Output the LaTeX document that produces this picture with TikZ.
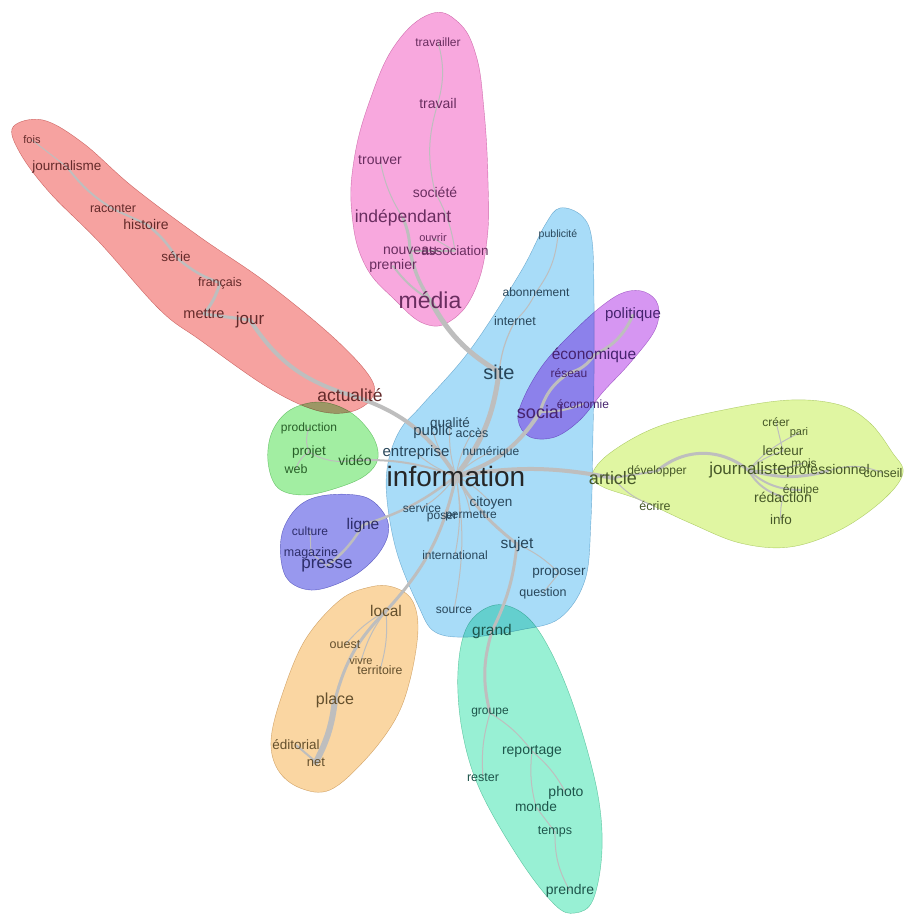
\documentclass[tikz,border=0pt]{standalone}
\usepackage{fontspec}
\setmainfont{Liberation Sans}

\definecolor{cPink}{RGB}{248,168,222}
\definecolor{cRed}{RGB}{246,162,160}
\definecolor{cBlue}{RGB}{168,220,248}
\definecolor{cPurple}{RGB}{214,150,242}
\definecolor{cYellow}{RGB}{224,246,162}
\definecolor{cGreen}{RGB}{162,238,162}
\definecolor{cViolet}{RGB}{152,152,238}
\definecolor{cOrange}{RGB}{250,214,162}
\definecolor{cTeal}{RGB}{152,240,212}
\definecolor{linkgray}{RGB}{190,190,190}
\definecolor{tPink}{RGB}{105,45,95}
\definecolor{tRed}{RGB}{100,42,42}
\definecolor{tBlue}{RGB}{40,70,90}
\definecolor{tPurple}{RGB}{70,35,110}
\definecolor{tYellow}{RGB}{70,88,40}
\definecolor{tGreen}{RGB}{40,95,40}
\definecolor{tViolet}{RGB}{45,45,105}
\definecolor{tOrange}{RGB}{100,80,45}
\definecolor{tTeal}{RGB}{30,85,75}

\pgfdeclarelayer{blobs}
\pgfdeclarelayer{links}
\pgfsetlayers{blobs,links,main}

\tikzset{
  wd/.style={inner sep=0pt, font=\fontsize{#1}{#1}\selectfont},
  lnk/.style={draw=linkgray, line width=#1, line cap=round},
  blob/.style={fill=#1, draw=#1!85!black, line width=0.4pt, blend mode=multiply},
}

\begin{document}
\begin{tikzpicture}[%
      x=1pt, y=-1pt,
      ]
      \useasboundingbox (0,0) rectangle (904,914);

      % media cluster
      \begin{scope}[text=tPink]
      \node[wd=12] (travailler) at (438,42) {travailler};
      \node[wd=14] (travail) at (438,103) {travail};
      \node[wd=14] (trouver) at (380,160) {trouver};
      \node[wd=14] (societe) at (435,192) {société};
      \node[wd=17.5] (independant) at (403,218) {indépendant};
      \node[wd=11] (ouvrir) at (433,238) {ouvrir};
      \node[wd=13.4] (association) at (455,251) {association};
      \node[wd=14] (nouveau) at (410,251) {nouveau};
      \node[wd=14] (premier) at (393,266) {premier};
      \node[wd=23] (media) at (430,300) {média};
      \end{scope}

      % jour cluster
      \begin{scope}[text=tRed]
      \node[wd=11] (fois) at (32,140) {fois};
      \node[wd=13.5] (journalisme) at (67,167) {journalisme};
      \node[wd=12.5] (raconter) at (113,209) {raconter};
      \node[wd=14] (histoire) at (146,224) {histoire};
      \node[wd=13.5] (serie) at (176,257) {série};
      \node[wd=12.5] (francais) at (220,283) {français};
      \node[wd=14.5] (mettre) at (204,314) {mettre};
      \node[wd=17] (jour) at (250,320) {jour};
      \node[wd=17.5] (actualite) at (350,395) {actualité};
      \end{scope}

      % information cluster
      \begin{scope}[text=tBlue]
      \node[wd=10.5] (publicite) at (558,235) {publicité};
      \node[wd=12] (abonnement) at (536,292) {abonnement};
      \node[wd=12.5] (internet) at (515,321) {internet};
      \node[wd=20] (site) at (499,372) {site};
      \node[wd=13.5] (qualite) at (450,424) {qualité};
      \node[wd=15] (public) at (433,432) {public};
      \node[wd=12.5] (acces) at (472,433) {accès};
      \node[wd=15] (entreprise) at (416,453) {entreprise};
      \node[wd=12] (numerique) at (491,452) {numérique};
      \node[wd=28,text=black!85] (information) at (456,476) {information};
      \node[wd=13.5] (citoyen) at (491,503) {citoyen};
      \node[wd=12] (service) at (422,508) {service};
      \node[wd=12] (poser) at (442,518) {poser};
      \node[wd=12] (permettre) at (471,516) {permettre};
      \node[wd=15.5] (sujet) at (517,544) {sujet};
      \node[wd=12] (international) at (455,555) {international};
      \node[wd=13.5] (proposer) at (559,573) {proposer};
      \node[wd=12.5] (question) at (543,593) {question};
      \node[wd=12] (source) at (454,610) {source};
      \end{scope}

      % social cluster
      \begin{scope}[text=tPurple]
      \node[wd=15] (politique) at (633,315) {politique};
      \node[wd=15.5] (economique) at (594,355) {économique};
      \node[wd=12] (reseau) at (569,373) {réseau};
      \node[wd=12] (economie) at (583,404) {économie};
      \node[wd=18] (social) at (540,412) {social};
      \end{scope}

      % article cluster
      \begin{scope}[text=tYellow]
      \node[wd=18] (article) at (613,478) {article};
      \node[wd=12] (developper) at (657,471) {développer};
      \node[wd=12.5] (ecrire) at (655,506) {écrire};
      \node[wd=17] (journaliste) at (748,470) {journaliste};
      \node[wd=12] (creer) at (776,422) {créer};
      \node[wd=11] (pari) at (799,433) {pari};
      \node[wd=13.5] (lecteur) at (783,451) {lecteur};
      \node[wd=12] (mois) at (804,463) {mois};
      \node[wd=14] (professionnel) at (828,471) {professionnel};
      \node[wd=12.5] (conseil) at (883,473) {conseil};
      \node[wd=12] (equipe) at (801,490) {équipe};
      \node[wd=14] (redaction) at (783,497) {rédaction};
      \node[wd=13.5] (info) at (781,520) {info};
      \end{scope}

      % video cluster
      \begin{scope}[text=tGreen]
      \node[wd=12] (production) at (309,428) {production};
      \node[wd=13.5] (projet) at (309,452) {projet};
      \node[wd=12.5] (web) at (296,469) {web};
      \node[wd=14] (video) at (355,460) {vidéo};
      \end{scope}

      % presse cluster
      \begin{scope}[text=tViolet]
      \node[wd=12] (culture) at (310,531) {culture};
      \node[wd=15.5] (ligne) at (363,525) {ligne};
      \node[wd=12.5] (magazine) at (311,553) {magazine};
      \node[wd=17] (presse) at (327,566) {presse};
      \end{scope}

      % local cluster
      \begin{scope}[text=tOrange]
      \node[wd=15.5] (local) at (386,611) {local};
      \node[wd=12.5] (ouest) at (345,645) {ouest};
      \node[wd=11] (vivre) at (361,661) {vivre};
      \node[wd=12.3] (territoire) at (380,670) {territoire};
      \node[wd=16] (place) at (335,700) {place};
      \node[wd=13.5] (editorial) at (296,745) {éditorial};
      \node[wd=13] (net) at (316,762) {net};
      \end{scope}

      % grand cluster
      \begin{scope}[text=tTeal]
      \node[wd=15.5] (grand) at (492,631) {grand};
      \node[wd=12] (groupe) at (490,713) {groupe};
      \node[wd=14] (reportage) at (532,751) {reportage};
      \node[wd=12.5] (rester) at (483,778) {rester};
      \node[wd=14] (photo) at (566,793) {photo};
      \node[wd=13.7] (monde) at (536,807) {monde};
      \node[wd=12.5] (temps) at (555,832) {temps};
      \node[wd=14] (prendre) at (570,891) {prendre};
      \end{scope}

      \begin{pgfonlayer}{blobs}
      \draw[blob=cBlue] plot[smooth cycle, tension=0.6] coordinates {(560,208) (582,216) (592,240) (594,300) (594,380) (593,433) (591,520) (585,580) (560,618) (520,630) (470,637) (435,632) (418,605) (397,553) (387,500) (388,463) (400,430) (422,405) (470,350) (520,273) (545,225)};
      \draw[blob=cPink] plot[smooth cycle, tension=0.7] coordinates {(430,14) (458,22) (476,55) (484,110) (488,180) (487,240) (475,290) (452,320) (425,324) (395,300) (365,265) (352,215) (354,160) (370,100) (395,45)};
      \draw[blob=cRed] plot[smooth cycle, tension=0.6] coordinates {(13,127) (43,120) (83,143) (133,187) (200,237) (267,283) (333,337) (370,377) (372,398) (350,412) (315,410) (267,387) (200,340) (160,310) (100,243) (50,193) (20,153)};
      \draw[blob=cPurple] plot[smooth cycle, tension=0.6] coordinates {(625,292) (645,292) (658,305) (655,330) (630,363) (603,392) (580,420) (555,437) (530,437) (518,420) (525,395) (545,362) (575,330) (603,305)};
      \draw[blob=cYellow] plot[smooth cycle, tension=0.6] coordinates {(592,475) (610,453) (657,427) (723,410) (790,400) (840,405) (870,423) (892,452) (903,473) (883,500) (840,530) (790,547) (740,543) (690,523) (640,500) (603,487)};
      \draw[blob=cGreen] plot[smooth cycle, tension=0.6] coordinates {(290,410) (320,402) (350,412) (372,435) (378,458) (366,475) (340,487) (305,495) (278,488) (268,462) (272,432)};
      \draw[blob=cViolet] plot[smooth cycle, tension=0.6] coordinates {(327,495) (365,497) (385,515) (388,535) (375,558) (350,578) (315,590) (290,582) (281,560) (283,530) (300,505)};
      \draw[blob=cOrange] plot[smooth cycle, tension=0.6] coordinates {(393,587) (412,600) (418,630) (410,680) (395,720) (365,760) (330,790) (300,788) (278,770) (271,740) (282,695) (305,640) (340,600) (370,587)};
      \draw[blob=cTeal] plot[smooth cycle, tension=0.6] coordinates {(495,605) (525,615) (550,650) (575,710) (597,790) (602,850) (593,900) (575,913) (555,905) (520,860) (480,790) (462,730) (458,670) (468,625)};
      \end{pgfonlayer}

      \begin{pgfonlayer}{links}
      % trunk
      \draw[lnk=5pt] (information.center) to[bend right=15] (site.center);
      \draw[lnk=5pt] (site.center) to[bend left=15] (media.center);
      \draw[lnk=4pt] (information.center) to[bend right=20] (actualite.center);
      \draw[lnk=4pt] (information.center) to[bend right=20] (social.center);
      \draw[lnk=4pt] (information.center) to[bend left=10] (article.center);
      \draw[lnk=2pt] (information.center) to[bend right=10] (video.center);
      \draw[lnk=2.5pt] (information.center) to[bend left=10] (ligne.center);
      \draw[lnk=3pt] (information.center) to[bend left=15] (local.center);
      \draw[lnk=3pt] (information.center) to[bend right=10] (sujet.center);
      \foreach \w in {qualite,public,acces,entreprise,numerique,citoyen,service,poser,permettre,international,source}
        \draw[lnk=1pt] (information.center) to[bend left=10] (\w.center);
      % media
      \draw[lnk=3.5pt] (media.center) to[bend left=10] (nouveau.center);
      \draw[lnk=3pt] (nouveau.center) to[bend right=10] (independant.center);
      \draw[lnk=2pt] (media.center) to[bend left=10] (premier.center);
      \draw[lnk=1pt] (independant.center) to[bend left=10] (trouver.center);
      \draw[lnk=1.5pt] (nouveau.center) -- (association.center);
      \draw[lnk=1pt] (association.center) -- (ouvrir.center);
      \draw[lnk=1pt] (association.center) to[bend right=10] (societe.center);
      \draw[lnk=1pt] (societe.center) to[bend left=15] (travail.center);
      \draw[lnk=1pt] (travail.center) to[bend right=15] (travailler.center);
      \draw[lnk=1.2pt] (site.center) to[bend left=10] (internet.center);
      \draw[lnk=1pt] (internet.center) to[bend right=10] (abonnement.center);
      \draw[lnk=1pt] (abonnement.center) to[bend right=15] (publicite.center);
      % jour
      \draw[lnk=4pt] (actualite.center) to[bend left=20] (jour.center);
      \draw[lnk=3pt] (jour.center) -- (mettre.center);
      \draw[lnk=3pt] (mettre.center) to[bend right=10] (francais.center);
      \draw[lnk=2.5pt] (francais.center) to[bend left=10] (serie.center);
      \draw[lnk=2.5pt] (serie.center) to[bend right=10] (histoire.center);
      \draw[lnk=2pt] (histoire.center) -- (raconter.center);
      \draw[lnk=2pt] (raconter.center) to[bend left=10] (journalisme.center);
      \draw[lnk=1pt] (journalisme.center) -- (fois.center);
      % social
      \draw[lnk=3pt] (social.center) to[bend left=20] (reseau.center);
      \draw[lnk=3pt] (reseau.center) to[bend right=20] (economique.center);
      \draw[lnk=3pt] (economique.center) to[bend right=20] (politique.center);
      \draw[lnk=2pt] (social.center) to[bend right=10] (economie.center);
      % article
      \draw[lnk=2pt] (article.center) -- (developper.center);
      \draw[lnk=3pt] (developper.center) to[bend left=40] (journaliste.center);
      \draw[lnk=1pt] (article.center) to[bend right=15] (ecrire.center);
      \draw[lnk=3pt] (journaliste.center) to[bend right=15] (professionnel.center);
      \draw[lnk=1pt] (professionnel.center) to[bend left=20] (conseil.center);
      \draw[lnk=1pt] (journaliste.center) to[bend left=10] (lecteur.center);
      \draw[lnk=1pt] (lecteur.center) -- (creer.center);
      \draw[lnk=1pt] (journaliste.center) to[bend left=10] (pari.center);
      \draw[lnk=1pt] (journaliste.center) to[bend right=10] (mois.center);
      \draw[lnk=2pt] (journaliste.center) to[bend right=20] (equipe.center);
      \draw[lnk=2pt] (journaliste.center) to[bend right=20] (redaction.center);
      \draw[lnk=1pt] (redaction.center) to[bend right=10] (info.center);
      % video and presse
      \draw[lnk=1pt] (video.center) to[bend left=20] (projet.center);
      \draw[lnk=1pt] (projet.center) to[bend right=20] (web.center);
      \draw[lnk=1pt] (projet.center) to[bend left=20] (production.center);
      \draw[lnk=2.5pt] (ligne.center) to[bend left=10] (presse.center);
      \draw[lnk=1pt] (presse.center) -- (magazine.center);
      \draw[lnk=1pt] (magazine.center) -- (culture.center);
      % local
      \draw[lnk=3pt] (local.center) to[bend right=15] (place.center);
      \draw[lnk=1pt] (local.center) to[bend right=10] (ouest.center);
      \draw[lnk=1pt] (local.center) to[bend right=10] (vivre.center);
      \draw[lnk=1pt] (local.center) to[bend left=10] (territoire.center);
      \draw[lnk=6pt] (place.center) to[bend left=10] (net.center);
      \draw[lnk=2pt] (net.center) -- (editorial.center);
      % grand
      \draw[lnk=3pt] (sujet.center) to[bend left=10] (grand.center);
      \draw[lnk=1pt] (sujet.center) to[bend left=10] (proposer.center);
      \draw[lnk=1pt] (proposer.center) -- (question.center);
      \draw[lnk=3pt] (grand.center) to[bend right=15] (groupe.center);
      \draw[lnk=1pt] (groupe.center) to[bend left=10] (reportage.center);
      \draw[lnk=1pt] (groupe.center) to[bend right=10] (rester.center);
      \draw[lnk=1pt] (reportage.center) to[bend left=10] (photo.center);
      \draw[lnk=1pt] (reportage.center) to[bend right=10] (monde.center);
      \draw[lnk=1pt] (monde.center) -- (temps.center);
      \draw[lnk=1pt] (temps.center) to[bend right=15] (prendre.center);
      \end{pgfonlayer}
\end{tikzpicture}
\end{document}
